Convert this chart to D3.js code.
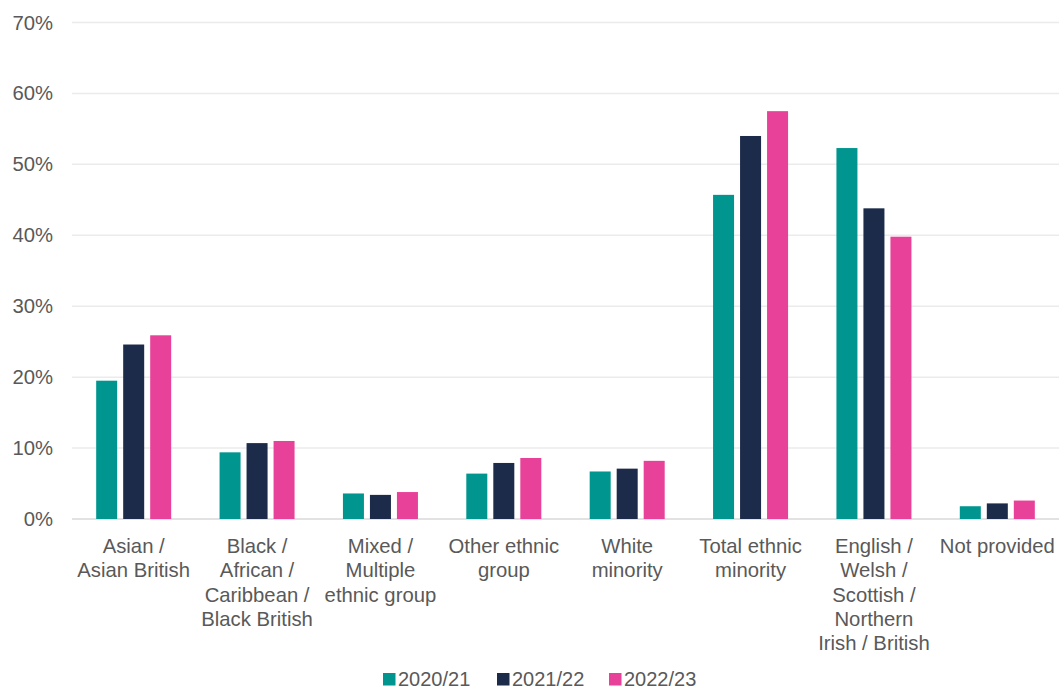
<!DOCTYPE html>
<html>
<head>
<meta charset="utf-8">
<script src="https://cdn.jsdelivr.net/npm/d3@7"></script>
<style>
  html, body { margin: 0; padding: 0; background: #ffffff; }
  svg { display: block; font-family: "Liberation Sans", Arial, sans-serif; }
</style>
</head>
<body>
<svg id="chart" width="1060" height="688"></svg>
<script>
// Categories (multi-line labels split on "\n")
const categories = [
  "Asian /\nAsian British",
  "Black /\nAfrican /\nCaribbean /\nBlack British",
  "Mixed /\nMultiple\nethnic group",
  "Other ethnic\ngroup",
  "White\nminority",
  "Total ethnic\nminority",
  "English /\nWelsh /\nScottish /\nNorthern\nIrish / British",
  "Not provided"
];

const seriesNames = ["2020/21", "2021/22", "2022/23"];

// Percentages per year, in category order
const values2020 = [19.5, 9.4, 3.6, 6.4, 6.7, 45.7, 52.3, 1.8];
const values2021 = [24.6, 10.7, 3.4, 7.9, 7.1, 54.0, 43.8, 2.2];
const values2022 = [25.9, 11.0, 3.8, 8.6, 8.2, 57.5, 39.8, 2.6];

const yTicks = [0, 10, 20, 30, 40, 50, 60, 70];

const colors = ["#00968f", "#1c2b4a", "#e8419a"];

const seriesValues = [values2020, values2021, values2022];

const svg = d3.select("#chart");
const plot = { left: 72, right: 1059, top: 22.5, bottom: 519 };

const x0 = d3.scaleBand()
  .domain(categories)
  .range([plot.left, plot.right])
  .paddingInner(0.392)
  .paddingOuter(0.196);

const x1 = d3.scaleBand()
  .domain(seriesNames)
  .range([0, x0.bandwidth()])
  .paddingInner(0.222)
  .paddingOuter(0);

const y = d3.scaleLinear()
  .domain([0, 70])
  .range([plot.bottom, plot.top]);

// Gridlines
svg.append("g")
  .selectAll("line")
  .data(yTicks)
  .join("line")
  .attr("x1", plot.left)
  .attr("x2", plot.right)
  .attr("y1", d => y(d))
  .attr("y2", d => y(d))
  .attr("stroke", d => d === 0 ? "#d9d9d9" : "#ebebeb")
  .attr("stroke-width", 1.5);

// Y axis labels
const yAxis = d3.axisLeft(y)
  .tickValues(yTicks)
  .tickFormat(d => d + "%")
  .tickSize(0)
  .tickPadding(0);

const yg = svg.append("g")
  .attr("transform", `translate(${53},0)`)
  .call(yAxis);
yg.select(".domain").remove();
yg.selectAll("text")
  .attr("fill", "#595959")
  .style("font-size", "20.3px")
  .style("font-family", "'Liberation Sans', Arial, sans-serif");

// Bars
const groups = svg.append("g")
  .selectAll("g")
  .data(categories)
  .join("g")
  .attr("transform", d => `translate(${x0(d)},0)`);

groups.selectAll("rect")
  .data((d, i) => seriesNames.map((s, j) => ({ s, v: seriesValues[j][i], c: colors[j] })))
  .join("rect")
  .attr("x", d => x1(d.s))
  .attr("width", x1.bandwidth())
  .attr("y", d => y(d.v))
  .attr("height", d => y(0) - y(d.v))
  .attr("fill", d => d.c);

// Category labels
const labelG = svg.append("g");
categories.forEach(cat => {
  const cx = x0(cat) + x0.bandwidth() / 2;
  const t = labelG.append("text")
    .attr("text-anchor", "middle")
    .attr("fill", "#595959")
    .style("font-size", "20.3px");
  cat.split("\n").forEach((line, i) => {
    t.append("tspan")
      .attr("x", cx)
      .attr("y", 553 + i * 24.3)
      .text(line);
  });
});

// Legend
const legendX = [383, 497, 609];
const legend = svg.append("g");
seriesNames.forEach((name, i) => {
  legend.append("rect")
    .attr("x", legendX[i])
    .attr("y", 673)
    .attr("width", 12.5)
    .attr("height", 12.5)
    .attr("fill", colors[i]);
  legend.append("text")
    .attr("x", legendX[i] + 15)
    .attr("y", 685.5)
    .attr("fill", "#595959")
    .style("font-size", "20px")
    .text(name);
});
</script>
</body>
</html>
